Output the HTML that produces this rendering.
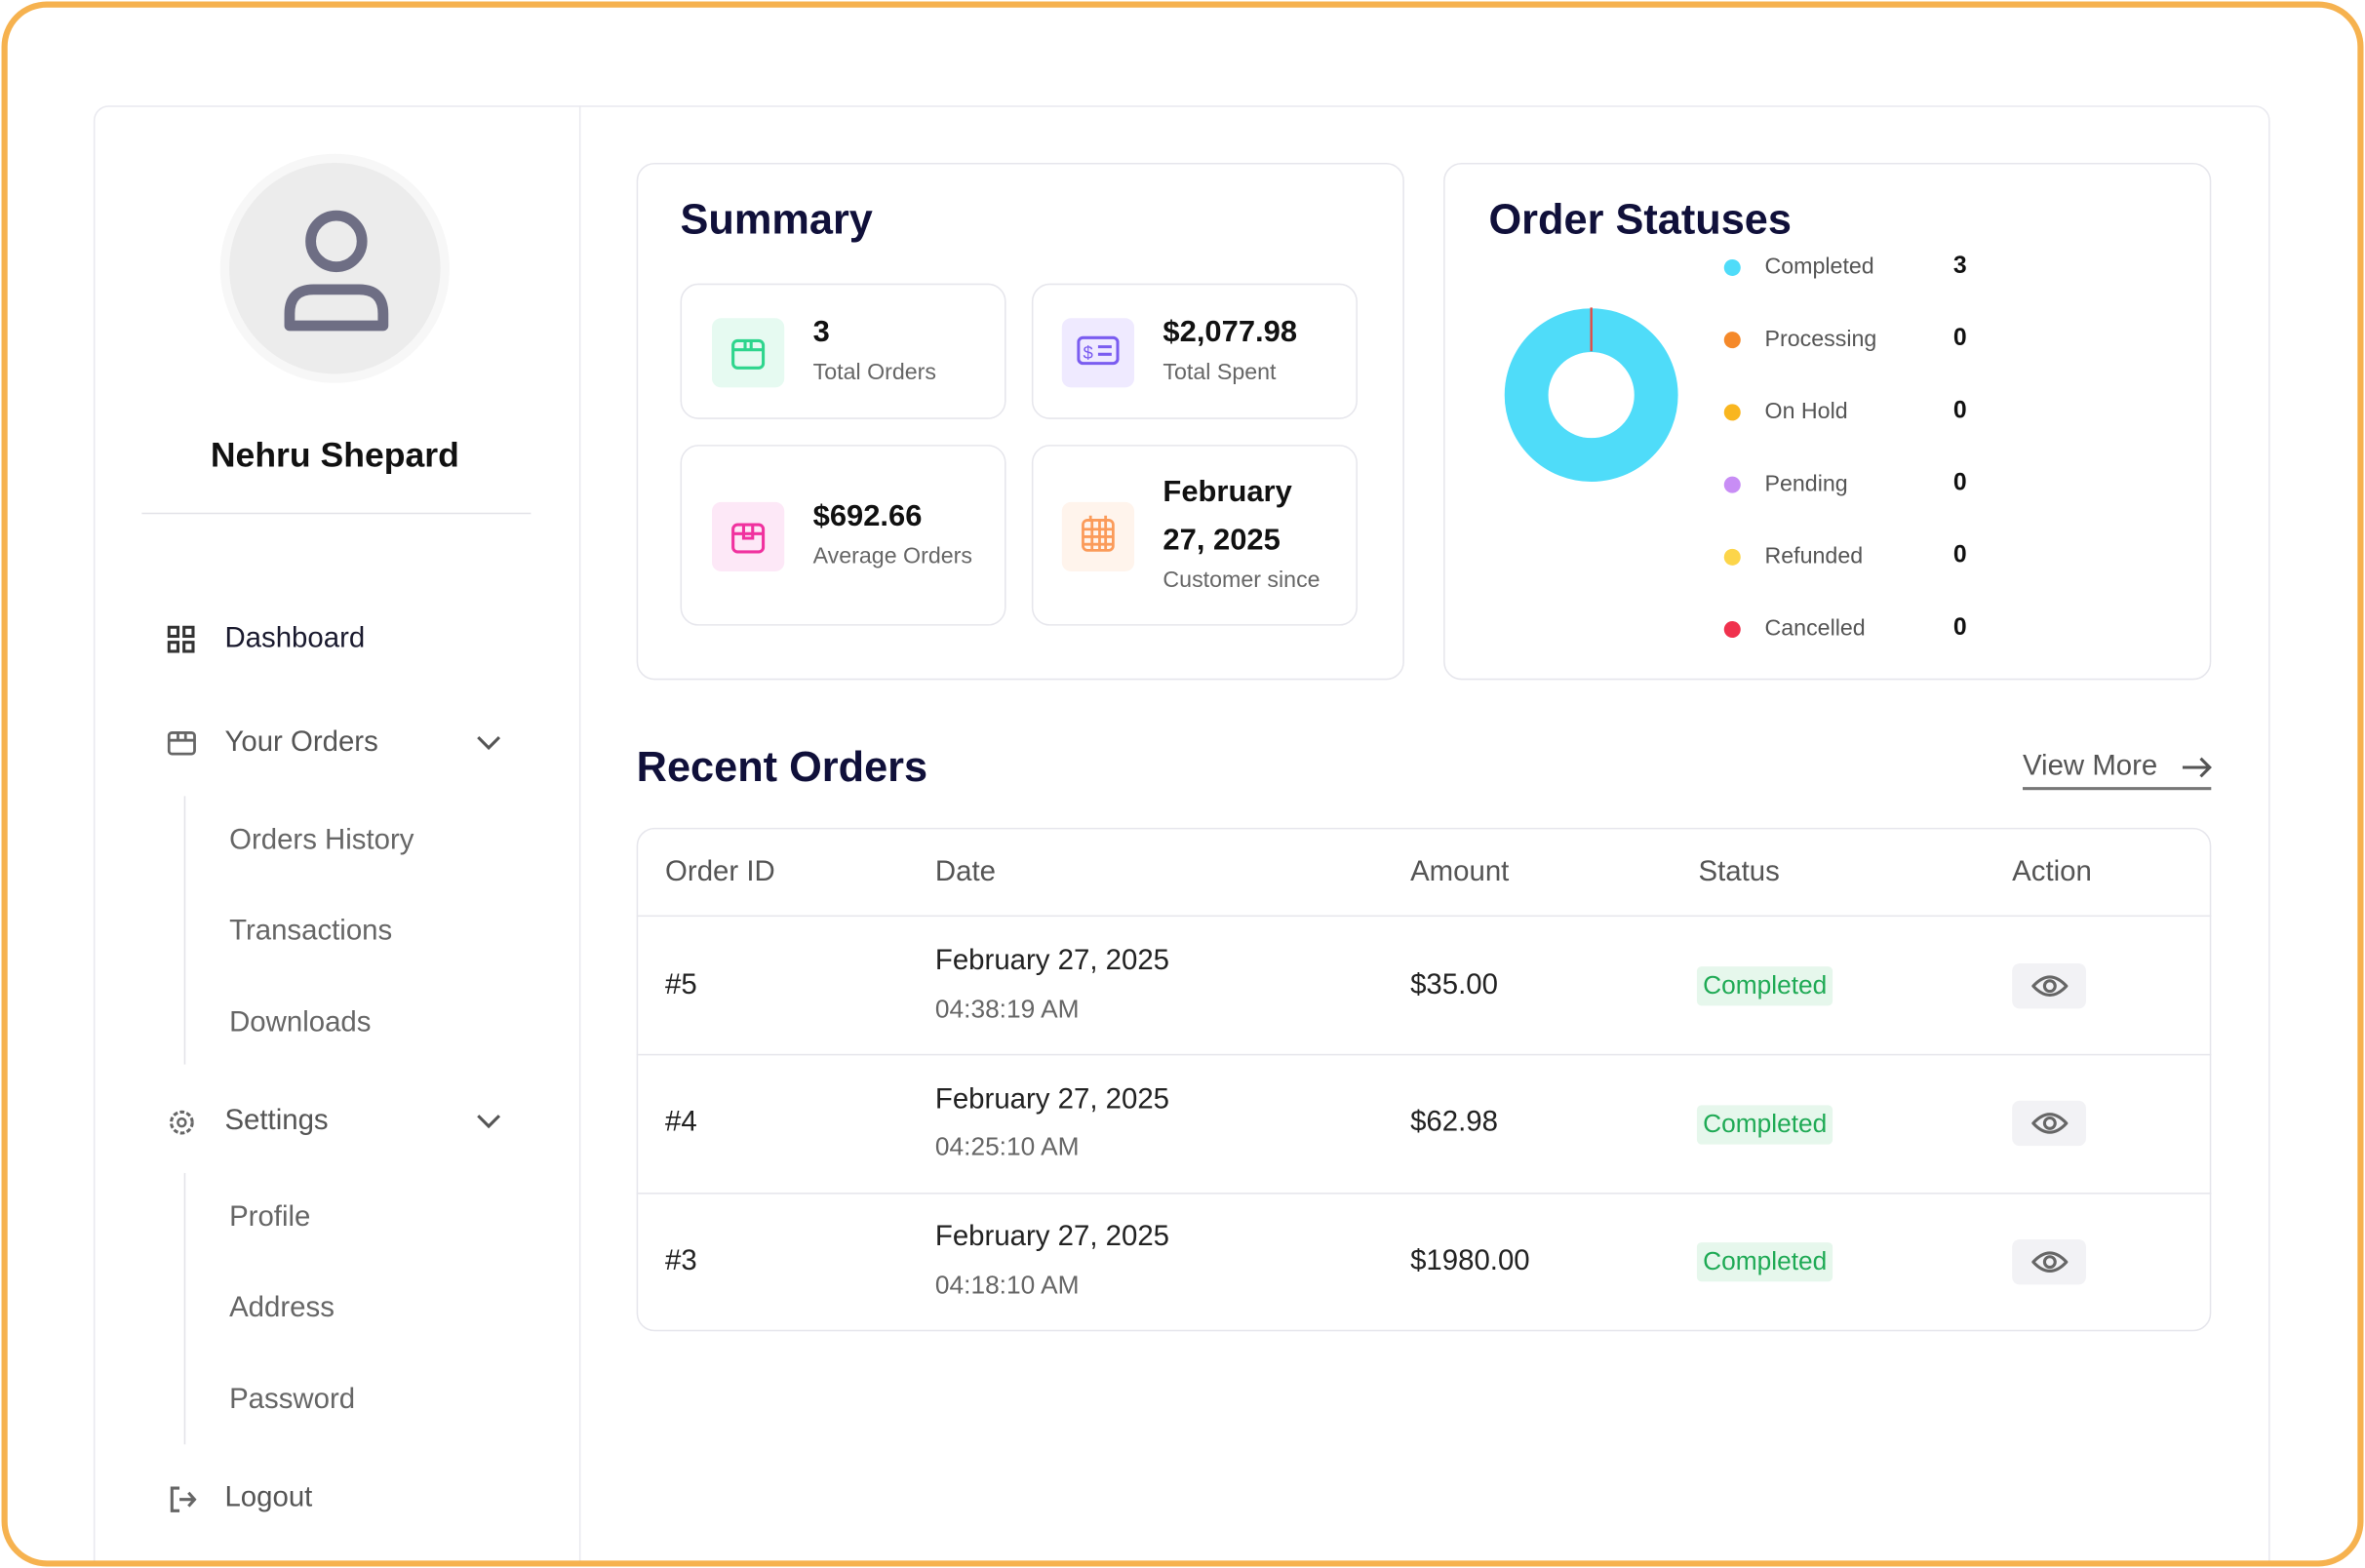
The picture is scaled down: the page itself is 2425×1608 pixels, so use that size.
<!DOCTYPE html>
<html><head><meta charset="utf-8"><style>
*{box-sizing:border-box;margin:0;padding:0}
html,body{width:2425px;height:1608px;overflow:hidden;background:#fff}
#s{position:absolute;left:0;top:0;width:1568px;height:1040px;transform:scale(1.5466,1.5462);transform-origin:0 0;font-family:"Liberation Sans",sans-serif;overflow:hidden}
.a{position:absolute}
.frame{left:1px;top:1px;width:1566px;height:1038px;border:4px solid #f6b24f;border-radius:30px;z-index:5}
.panel{left:62px;top:70px;width:1443px;height:1000px;border:1px solid #e9e9ef;border-radius:10px}
.t{position:absolute;white-space:nowrap;transform:translateY(-50%)}
.card{position:absolute;border:1px solid #e6e6ec;border-radius:12px;background:#fff}
.ib{position:absolute;width:48px;height:46px;border-radius:6px}
.h{font-weight:bold;font-size:28px;color:#10103a}
.dot{position:absolute;width:11px;height:11px;border-radius:50%}
.row{position:absolute;left:422px;width:1044px;border-top:1px solid #e6e6ec}
.badge{position:absolute;background:#e6f7ec;color:#1faa55;font-size:17px;padding:3px 4px;border-radius:3px;transform:translateY(-50%)}
.eye{position:absolute;left:1334px;width:49px;height:30px;background:#f2f2f5;border-radius:5px;transform:translateY(-50%)}
.clip{position:absolute;left:0;top:0;width:1568px;height:1036px;overflow:hidden}
</style></head><body><div id="s">
<div class="clip">
<div class="a panel"></div>
<div class="a" style="left:384px;top:70px;width:1px;height:970px;background:#e9e9ef"></div>
</div>
<div class="a frame"></div>
<div class="a" style="left:146px;top:102px;width:152px;height:152px;border-radius:50%;background:#f7f7f7"></div>
<div class="a" style="left:152px;top:108px;width:140px;height:140px;border-radius:50%;background:#ececec"></div>
<svg class="a" style="left:186px;top:138px" width="74" height="84" viewBox="0 0 74 84"><circle cx="37" cy="22" r="17" fill="none" stroke="#6e6e84" stroke-width="7"/><path d="M6 78 V70 Q6 54 22 54 H52 Q68 54 68 70 V78 Z" fill="none" stroke="#6e6e84" stroke-width="7" stroke-linejoin="round"/></svg>
<div class="t" style="left:222px;top:302px;transform:translate(-50%,-50%);font-size:23px;font-weight:bold;color:#111">Nehru Shepard</div>
<div class="a" style="left:94px;top:340px;width:258px;height:1px;background:#e3e3e8"></div>
<svg class="a" style="left:111px;top:415px" width="19" height="19"><g fill="none" stroke="#333" stroke-width="2"><rect x="1" y="1" width="6" height="6"/><rect x="11" y="1" width="6" height="6"/><rect x="1" y="11" width="6" height="6"/><rect x="11" y="11" width="6" height="6"/></g></svg>
<div class="t" style="left:149px;top:424px;font-size:19px;color:#1a1a2e">Dashboard</div>
<svg class="a" style="left:111px;top:484px" width="19" height="17"><g fill="none" stroke="#666" stroke-width="1.8"><rect x="1" y="2" width="17" height="14" rx="2"/><path d="M1 7H18M7 2V7M12 2V7"/></g></svg>
<div class="t" style="left:149px;top:493px;font-size:19px;color:#555">Your Orders</div>
<svg class="a" style="left:315px;top:487px" width="18" height="12"><path d="M2 2L9 9L16 2" fill="none" stroke="#555" stroke-width="2"/></svg>
<div class="a" style="left:122px;top:528px;width:1px;height:178px;background:#e3e3e8"></div>
<div class="t" style="left:152px;top:558px;font-size:19px;color:#666">Orders History</div>
<div class="t" style="left:152px;top:618px;font-size:19px;color:#666">Transactions</div>
<div class="t" style="left:152px;top:679px;font-size:19px;color:#666">Downloads</div>
<svg class="a" style="left:111px;top:735px" width="19" height="19"><circle cx="9.5" cy="9.5" r="7" fill="none" stroke="#666" stroke-width="2" stroke-dasharray="3 1.5"/><circle cx="9.5" cy="9.5" r="2.6" fill="none" stroke="#666" stroke-width="1.6"/></svg>
<div class="t" style="left:149px;top:744px;font-size:19px;color:#555">Settings</div>
<svg class="a" style="left:315px;top:738px" width="18" height="12"><path d="M2 2L9 9L16 2" fill="none" stroke="#555" stroke-width="2"/></svg>
<div class="a" style="left:122px;top:778px;width:1px;height:180px;background:#e3e3e8"></div>
<div class="t" style="left:152px;top:808px;font-size:19px;color:#666">Profile</div>
<div class="t" style="left:152px;top:868px;font-size:19px;color:#666">Address</div>
<div class="t" style="left:152px;top:929px;font-size:19px;color:#666">Password</div>
<svg class="a" style="left:111px;top:985px" width="20" height="19"><path d="M8 2H3V17H8M8 9.5H18M14 5L18 9.5L14 14" fill="none" stroke="#666" stroke-width="2"/></svg>
<div class="t" style="left:149px;top:994px;font-size:19px;color:#555">Logout</div>

<div class="card" style="left:422px;top:108px;width:509px;height:343px"></div>
<div class="t h" style="left:451px;top:146px">Summary</div>
<div class="card" style="left:451px;top:188px;width:216px;height:90px"></div>
<div class="card" style="left:684px;top:188px;width:216px;height:90px"></div>
<div class="card" style="left:451px;top:295px;width:216px;height:120px"></div>
<div class="card" style="left:684px;top:295px;width:216px;height:120px"></div>
<div class="ib" style="left:472px;top:211px;background:#e6faf1"></div>
<svg class="a" style="left:484px;top:222px" width="24" height="24"><g fill="none" stroke="#2ed58d" stroke-width="2"><rect x="2" y="4" width="20" height="18" rx="3"/><path d="M2 10H22M10 4V10M14 4V10"/></g></svg>
<div class="ib" style="left:704px;top:211px;background:#efeaff"></div>
<svg class="a" style="left:714px;top:222px" width="28" height="22"><g fill="none" stroke="#7a5cf0" stroke-width="2"><rect x="1" y="2" width="26" height="17" rx="3"/><path d="M14 8H23M14 13H23"/></g><text x="4" y="16" font-size="12" fill="#7a5cf0" font-family="Liberation Sans">$</text></svg>
<div class="ib" style="left:472px;top:333px;background:#fde8f7"></div>
<svg class="a" style="left:484px;top:344px" width="24" height="24"><g fill="none" stroke="#f0329f" stroke-width="2"><rect x="2" y="4" width="20" height="18" rx="3"/><path d="M2 10H22M9 4V13H15V4"/></g></svg>
<div class="ib" style="left:704px;top:333px;background:#fff4ec"></div>
<svg class="a" style="left:717px;top:341px" width="22" height="26"><g fill="none" stroke="#fb9b5a" stroke-width="1.8"><rect x="1" y="4" width="20" height="20" rx="3"/><path d="M1 10H21M1 15H21M1 20H21M7 4V24M12 4V24M16 4V24M6 1V5M16 1V5"/></g></svg>
<div class="t" style="left:539px;top:221px;font-size:20px;font-weight:bold;color:#111">3</div>
<div class="t" style="left:539px;top:247px;font-size:15px;color:#666">Total Orders</div>
<div class="t" style="left:771px;top:221px;font-size:20px;font-weight:bold;color:#111">$2,077.98</div>
<div class="t" style="left:771px;top:247px;font-size:15px;color:#666">Total Spent</div>
<div class="t" style="left:539px;top:343px;font-size:20px;font-weight:bold;color:#111">$692.66</div>
<div class="t" style="left:539px;top:369px;font-size:15px;color:#666">Average Orders</div>
<div class="t" style="left:771px;top:327px;font-size:20px;font-weight:bold;color:#111">February</div>
<div class="t" style="left:771px;top:359px;font-size:20px;font-weight:bold;color:#111">27, 2025</div>
<div class="t" style="left:771px;top:385px;font-size:15px;color:#666">Customer since</div>

<div class="card" style="left:957px;top:108px;width:509px;height:343px"></div>
<div class="t h" style="left:987px;top:146px">Order Statuses</div>
<svg class="a" style="left:995px;top:202px" width="120" height="120"><circle cx="60" cy="60" r="43" fill="none" stroke="#4fdcf9" stroke-width="29"/><line x1="60" y1="2" x2="60" y2="31" stroke="#e8473f" stroke-width="1.5"/></svg>
<div class="dot" style="left:1143px;top:172px;background:#4fdcf9"></div>
<div class="dot" style="left:1143px;top:220px;background:#f5892a"></div>
<div class="dot" style="left:1143px;top:268px;background:#f9b61f"></div>
<div class="dot" style="left:1143px;top:316px;background:#c88df5"></div>
<div class="dot" style="left:1143px;top:364px;background:#fcd54a"></div>
<div class="dot" style="left:1143px;top:412px;background:#f0314d"></div>
<div class="t" style="left:1170px;top:177px;font-size:15px;color:#555">Completed</div>
<div class="t" style="left:1170px;top:225px;font-size:15px;color:#555">Processing</div>
<div class="t" style="left:1170px;top:273px;font-size:15px;color:#555">On Hold</div>
<div class="t" style="left:1170px;top:321px;font-size:15px;color:#555">Pending</div>
<div class="t" style="left:1170px;top:369px;font-size:15px;color:#555">Refunded</div>
<div class="t" style="left:1170px;top:417px;font-size:15px;color:#555">Cancelled</div>
<div class="t" style="left:1295px;top:177px;font-size:16px;font-weight:bold;color:#111">3</div>
<div class="t" style="left:1295px;top:225px;font-size:16px;font-weight:bold;color:#111">0</div>
<div class="t" style="left:1295px;top:273px;font-size:16px;font-weight:bold;color:#111">0</div>
<div class="t" style="left:1295px;top:321px;font-size:16px;font-weight:bold;color:#111">0</div>
<div class="t" style="left:1295px;top:369px;font-size:16px;font-weight:bold;color:#111">0</div>
<div class="t" style="left:1295px;top:417px;font-size:16px;font-weight:bold;color:#111">0</div>

<div class="t h" style="left:422px;top:509px">Recent Orders</div>
<div class="t" style="left:1341px;top:509px;font-size:19px;color:#555">View More</div>
<svg class="a" style="left:1446px;top:501px" width="21" height="16"><path d="M1 8H19M13 2L19 8L13 14" fill="none" stroke="#555" stroke-width="2"/></svg>
<div class="a" style="left:1341px;top:522px;width:125px;height:2px;background:#777"></div>
<div class="card" style="left:422px;top:549px;width:1044px;height:334px"></div>
<div class="row" style="top:607px"></div>
<div class="row" style="top:699px"></div>
<div class="row" style="top:791px"></div>
<div class="t" style="left:441px;top:579px;font-size:19px;color:#555">Order ID</div>
<div class="t" style="left:620px;top:579px;font-size:19px;color:#555">Date</div>
<div class="t" style="left:935px;top:579px;font-size:19px;color:#555">Amount</div>
<div class="t" style="left:1126px;top:579px;font-size:19px;color:#555">Status</div>
<div class="t" style="left:1334px;top:579px;font-size:19px;color:#555">Action</div>

<div class="t" style="left:441px;top:654px;font-size:19px;color:#222">#5</div>
<div class="t" style="left:620px;top:638px;font-size:19px;color:#222">February 27, 2025</div>
<div class="t" style="left:620px;top:670px;font-size:17px;color:#666">04:38:19 AM</div>
<div class="t" style="left:935px;top:654px;font-size:19px;color:#222">$35.00</div>
<div class="badge" style="left:1125px;top:654px">Completed</div>
<div class="eye" style="top:654px"></div>

<div class="t" style="left:441px;top:745px;font-size:19px;color:#222">#4</div>
<div class="t" style="left:620px;top:730px;font-size:19px;color:#222">February 27, 2025</div>
<div class="t" style="left:620px;top:761px;font-size:17px;color:#666">04:25:10 AM</div>
<div class="t" style="left:935px;top:745px;font-size:19px;color:#222">$62.98</div>
<div class="badge" style="left:1125px;top:746px">Completed</div>
<div class="eye" style="top:745px"></div>

<div class="t" style="left:441px;top:837px;font-size:19px;color:#222">#3</div>
<div class="t" style="left:620px;top:821px;font-size:19px;color:#222">February 27, 2025</div>
<div class="t" style="left:620px;top:853px;font-size:17px;color:#666">04:18:10 AM</div>
<div class="t" style="left:935px;top:837px;font-size:19px;color:#222">$1980.00</div>
<div class="badge" style="left:1125px;top:837px">Completed</div>
<div class="eye" style="top:837px"></div>

<svg class="a" style="left:1347px;top:645px" width="24" height="18"><path d="M1 9Q12 -3 23 9Q12 21 1 9Z" fill="none" stroke="#666" stroke-width="2"/><circle cx="12" cy="9" r="3.5" fill="none" stroke="#666" stroke-width="2"/></svg>
<svg class="a" style="left:1347px;top:736px" width="24" height="18"><path d="M1 9Q12 -3 23 9Q12 21 1 9Z" fill="none" stroke="#666" stroke-width="2"/><circle cx="12" cy="9" r="3.5" fill="none" stroke="#666" stroke-width="2"/></svg>
<svg class="a" style="left:1347px;top:828px" width="24" height="18"><path d="M1 9Q12 -3 23 9Q12 21 1 9Z" fill="none" stroke="#666" stroke-width="2"/><circle cx="12" cy="9" r="3.5" fill="none" stroke="#666" stroke-width="2"/></svg>
</div></body></html>
